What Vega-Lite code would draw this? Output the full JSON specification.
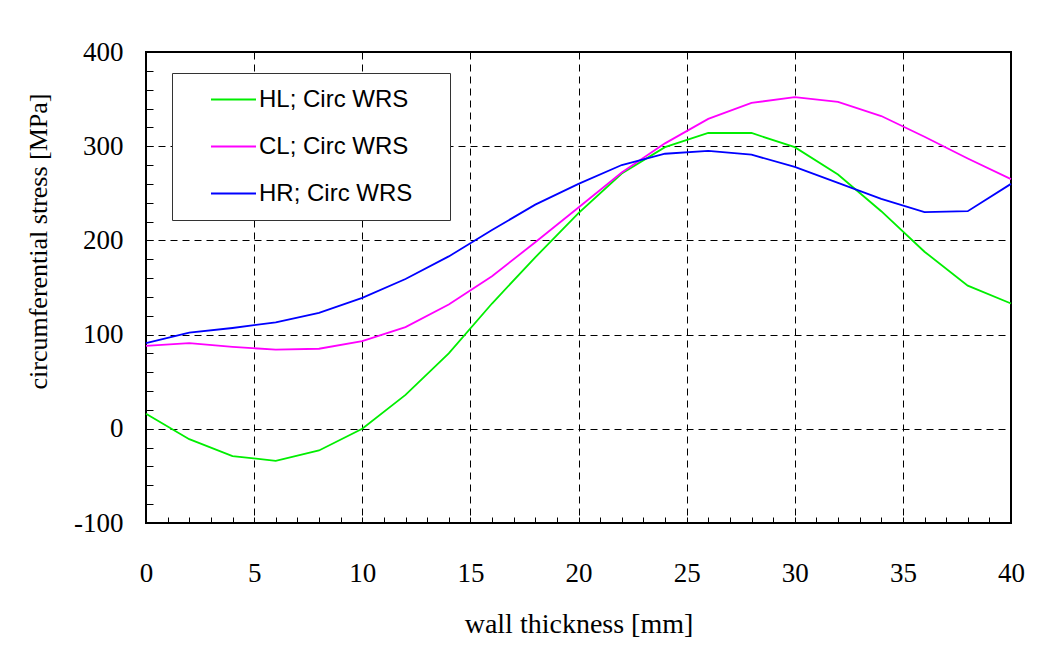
{
  "$schema": "https://vega.github.io/schema/vega-lite/v6.json",
  "width": 865,
  "height": 471,
  "autosize": {"type": "none"},
  "padding": {"left": 146, "top": 52, "right": 30, "bottom": 122},
  "background": "white",
  "config": {
    "view": {"stroke": "#000000", "strokeWidth": 2},
    "font": "Liberation Serif"
  },
  "data": {
    "values": [
      {"x": 0, "s": "HL; Circ WRS", "v": 16},
      {"x": 2, "s": "HL; Circ WRS", "v": -11},
      {"x": 4, "s": "HL; Circ WRS", "v": -29},
      {"x": 6, "s": "HL; Circ WRS", "v": -34},
      {"x": 8, "s": "HL; Circ WRS", "v": -23},
      {"x": 10, "s": "HL; Circ WRS", "v": 0},
      {"x": 12, "s": "HL; Circ WRS", "v": 36},
      {"x": 14, "s": "HL; Circ WRS", "v": 80},
      {"x": 16, "s": "HL; Circ WRS", "v": 133},
      {"x": 18, "s": "HL; Circ WRS", "v": 182},
      {"x": 20, "s": "HL; Circ WRS", "v": 229},
      {"x": 22, "s": "HL; Circ WRS", "v": 271},
      {"x": 24, "s": "HL; Circ WRS", "v": 299},
      {"x": 26, "s": "HL; Circ WRS", "v": 314},
      {"x": 28, "s": "HL; Circ WRS", "v": 314},
      {"x": 30, "s": "HL; Circ WRS", "v": 299},
      {"x": 32, "s": "HL; Circ WRS", "v": 270},
      {"x": 34, "s": "HL; Circ WRS", "v": 231},
      {"x": 36, "s": "HL; Circ WRS", "v": 188},
      {"x": 38, "s": "HL; Circ WRS", "v": 152},
      {"x": 40, "s": "HL; Circ WRS", "v": 133},
      {"x": 0, "s": "CL; Circ WRS", "v": 88},
      {"x": 2, "s": "CL; Circ WRS", "v": 91},
      {"x": 4, "s": "CL; Circ WRS", "v": 87},
      {"x": 6, "s": "CL; Circ WRS", "v": 84},
      {"x": 8, "s": "CL; Circ WRS", "v": 85},
      {"x": 10, "s": "CL; Circ WRS", "v": 93},
      {"x": 12, "s": "CL; Circ WRS", "v": 108},
      {"x": 14, "s": "CL; Circ WRS", "v": 132},
      {"x": 16, "s": "CL; Circ WRS", "v": 162},
      {"x": 18, "s": "CL; Circ WRS", "v": 198},
      {"x": 20, "s": "CL; Circ WRS", "v": 235},
      {"x": 22, "s": "CL; Circ WRS", "v": 272},
      {"x": 24, "s": "CL; Circ WRS", "v": 303},
      {"x": 26, "s": "CL; Circ WRS", "v": 329},
      {"x": 28, "s": "CL; Circ WRS", "v": 346},
      {"x": 30, "s": "CL; Circ WRS", "v": 352},
      {"x": 32, "s": "CL; Circ WRS", "v": 347},
      {"x": 34, "s": "CL; Circ WRS", "v": 332},
      {"x": 36, "s": "CL; Circ WRS", "v": 310},
      {"x": 38, "s": "CL; Circ WRS", "v": 287},
      {"x": 40, "s": "CL; Circ WRS", "v": 265},
      {"x": 0, "s": "HR; Circ WRS", "v": 91},
      {"x": 2, "s": "HR; Circ WRS", "v": 102},
      {"x": 4, "s": "HR; Circ WRS", "v": 107},
      {"x": 6, "s": "HR; Circ WRS", "v": 113},
      {"x": 8, "s": "HR; Circ WRS", "v": 123},
      {"x": 10, "s": "HR; Circ WRS", "v": 139},
      {"x": 12, "s": "HR; Circ WRS", "v": 159},
      {"x": 14, "s": "HR; Circ WRS", "v": 183},
      {"x": 16, "s": "HR; Circ WRS", "v": 211},
      {"x": 18, "s": "HR; Circ WRS", "v": 238},
      {"x": 20, "s": "HR; Circ WRS", "v": 260},
      {"x": 22, "s": "HR; Circ WRS", "v": 280},
      {"x": 24, "s": "HR; Circ WRS", "v": 292},
      {"x": 26, "s": "HR; Circ WRS", "v": 295},
      {"x": 28, "s": "HR; Circ WRS", "v": 291},
      {"x": 30, "s": "HR; Circ WRS", "v": 278},
      {"x": 32, "s": "HR; Circ WRS", "v": 261},
      {"x": 34, "s": "HR; Circ WRS", "v": 244},
      {"x": 36, "s": "HR; Circ WRS", "v": 230},
      {"x": 38, "s": "HR; Circ WRS", "v": 231},
      {"x": 40, "s": "HR; Circ WRS", "v": 260}
    ]
  },
  "resolve": {"axis": {"x": "independent", "y": "independent"}},
  "layer": [
    {
      "mark": {"type": "line", "strokeOpacity": 0},
      "encoding": {
        "x": {
          "field": "x", "type": "quantitative",
          "scale": {"domain": [0, 40], "nice": false, "zero": false},
          "axis": {
            "orient": "bottom", "values": [0,1,2,3,4,5,6,7,8,9,10,11,12,13,14,15,16,17,18,19,20,21,22,23,24,25,26,27,28,29,30,31,32,33,34,35,36,37,38,39,40],
            "labels": false, "grid": false, "domain": false, "title": null,
            "ticks": true, "tickSize": -6, "tickColor": "#000000", "tickWidth": 1
          }
        },
        "y": {
          "field": "v", "type": "quantitative",
          "scale": {"domain": [-100, 400], "nice": false, "zero": false},
          "axis": {
            "orient": "left", "values": [-100,-80,-60,-40,-20,0,20,40,60,80,100,120,140,160,180,200,220,240,260,280,300,320,340,360,380,400],
            "labels": false, "grid": false, "domain": false, "title": null,
            "ticks": true, "tickSize": -7, "tickColor": "#000000", "tickWidth": 1
          }
        },
        "detail": {"field": "s"}
      }
    },
    {
      "mark": {"type": "line", "strokeWidth": 1.8},
      "encoding": {
        "x": {
          "field": "x", "type": "quantitative",
          "scale": {"domain": [0, 40], "nice": false, "zero": false},
          "axis": {
            "orient": "bottom", "values": [0,5,10,15,20,25,30,35,40],
            "ticks": false, "domain": false,
            "grid": true, "gridColor": "#000000", "gridDash": [7, 5], "gridWidth": 1, "gridOpacity": 1,
            "labelFont": "Liberation Serif", "labelFontSize": 27, "labelColor": "#000000",
            "labelBaseline": "alphabetic", "labelPadding": 58, "labelFlush": false,
            "title": "wall thickness [mm]", "titleFont": "Liberation Serif", "titleFontSize": 28,
            "titleFontWeight": "normal", "titleColor": "#000000",
            "titleBaseline": "alphabetic", "titleY": 109
          }
        },
        "y": {
          "field": "v", "type": "quantitative",
          "scale": {"domain": [-100, 400], "nice": false, "zero": false},
          "axis": {
            "orient": "left", "values": [-100,0,100,200,300,400],
            "ticks": false, "domain": false,
            "grid": true, "gridColor": "#000000", "gridDash": [7, 5], "gridWidth": 1, "gridOpacity": 1,
            "labelFont": "Liberation Serif", "labelFontSize": 27, "labelColor": "#000000",
            "labelPadding": 23, "labelFlush": false,
            "labelExpr": "datum.value < 0 ? '-' + abs(datum.value) : datum.label",
            "title": "circumferential stress [MPa]", "titleFont": "Liberation Serif", "titleFontSize": 26,
            "titleFontWeight": "normal", "titleColor": "#000000",
            "titleX": -108, "titleY": 189, "titleBaseline": "middle", "titleAngle": -90
          }
        },
        "color": {
          "field": "s", "type": "nominal",
          "scale": {"domain": ["HL; Circ WRS", "CL; Circ WRS", "HR; Circ WRS"], "range": ["#00EE00", "#FF00FF", "#0000FF"]},
          "legend": {
            "orient": "none", "legendX": 26, "legendY": 21,
            "title": "MMMMMMMMMMMMMMMMMMMMMMMMMMMMMMMMMMMMMMMMII",
            "titleOrient": "bottom", "titleColor": "#FFFFFF", "titleFont": "Liberation Sans",
            "titleFontSize": 8, "titleFontWeight": "normal", "titlePadding": 3, "titleLimit": 600,
            "titleAnchor": "start",
            "fillColor": "#FFFFFF", "strokeColor": "#333333",
            "padding": 3,
            "symbolType": "stroke", "symbolSize": 2025, "symbolStrokeWidth": 2, "symbolOffset": 35,
            "labelFont": "Liberation Sans", "labelFontSize": 24, "labelColor": "#000000",
            "labelOffset": 2, "rowPadding": 11, "labelLimit": 400
          }
        }
      }
    }
  ]
}
